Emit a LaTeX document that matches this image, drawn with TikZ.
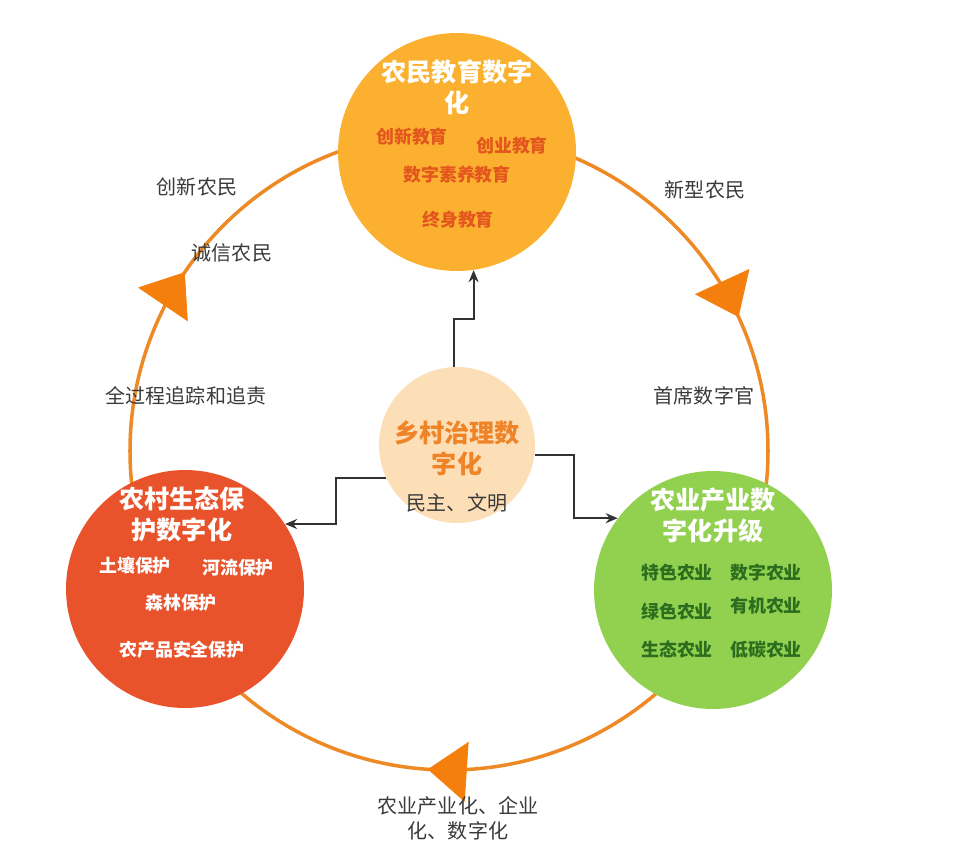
\documentclass[tikz,border=0pt]{standalone}
\usepackage{fontspec}
\setmainfont{Noto Sans CJK SC}
\usepackage{tikz}
\usetikzlibrary{arrows.meta, positioning, decorations.markings}
\definecolor{EduOrange}{HTML}{FBB12F}
\definecolor{EcoRed}{HTML}{E8532C}
\definecolor{AgriGreen}{HTML}{92D050}
\definecolor{GovPeach}{HTML}{FDDFB7}
\definecolor{RingOrange}{HTML}{EE8A26}
\definecolor{TipOrange}{HTML}{F57F0C}
\definecolor{ItemRed}{HTML}{E3561E}
\definecolor{ItemGreen}{HTML}{2C6E1E}
\definecolor{GovText}{HTML}{EE8427}
\definecolor{NoteGray}{HTML}{3A3A3A}
\definecolor{LinkGray}{HTML}{303234}

\begin{document}
\begin{tikzpicture}[
        x=0.02cm, y=-0.02cm,
        every node/.style={align=center, inner sep=0pt},
        bubble/.style={circle, minimum size=4.76cm},
        title/.style={text=white, font=\fontsize{14.3}{17.6}\selectfont\bfseries},
        item/.style={font=\fontsize{10.2}{12}\selectfont\bfseries},
        note/.style={text=NoteGray, font=\fontsize{11.4}{14.2}\selectfont},
        link/.style={LinkGray, line width=1.1pt, -{Stealth[length=2.4mm, width=2mm]}},
        tip/.style={TipOrange, line width=0.4pt},
        ring/.style={RingOrange, line width=2pt, postaction={decorate},
            decoration={markings,
                mark=at position 0.2606 with {\arrow[tip]{Triangle[length=7.8mm, width=12mm]}},
                mark=at position 0.5947 with {\arrow[tip]{Triangle[length=7.8mm, width=12mm]}},
                mark=at position 0.9310 with {\arrow[tip]{Triangle[length=7.8mm, width=12mm]}}}}
    ]
        \useasboundingbox (0,0) rectangle (965,852);

        % outer cycle
        \coordinate (hub) at (449,451);
        \draw[ring] (hub) circle[radius=319];

        \node[bubble, fill=EduOrange] (edu) at (457,152) {};
        \node[bubble, fill=EcoRed] (eco) at (185,589) {};
        \node[bubble, fill=AgriGreen] (agri) at (713,590) {};
        \node[bubble, fill=GovPeach, minimum size=3.12cm] (gov) at (457,445) {};

        \node[title] (eduTitle) at (457,87) {农民教育数字\\化};
        \node[item, text=ItemRed] (eduA) at (412,137) {创新教育};
        \node[item, text=ItemRed] (eduB) at (512,146) {创业教育};
        \node[item, text=ItemRed] (eduC) at (457,175) {数字素养教育};
        \node[item, text=ItemRed] (eduD) at (458,220) {终身教育};

        \node[title] (ecoTitle) at (182,514) {农村生态保\\护数字化};
        \node[item, text=white] (ecoA) at (135,566) {土壤保护};
        \node[item, text=white] (ecoB) at (238,568) {河流保护};
        \node[item, text=white] (ecoC) at (181,603) {森林保护};
        \node[item, text=white] (ecoD) at (182,650) {农产品安全保护};

        \node[title] (agriTitle) at (713,515) {农业产业数\\字化升级};
        \node[item, text=ItemGreen] (agriA) at (677,573) {特色农业};
        \node[item, text=ItemGreen] (agriB) at (766,573) {数字农业};
        \node[item, text=ItemGreen] (agriC) at (677,612) {绿色农业};
        \node[item, text=ItemGreen] (agriD) at (766,606) {有机农业};
        \node[item, text=ItemGreen] (agriE) at (677,650) {生态农业};
        \node[item, text=ItemGreen] (agriF) at (766,650) {低碳农业};

        \node[title, text=GovText] (govTitle) at (457,448) {乡村治理数\\字化};
        \node[note] (govNote) at (457,503) {民主、文明};

        % labels along the cycle
        \node[note] (lblA) at (197,187) {创新农民};
        \node[note] (lblB) at (232,253) {诚信农民};
        \node[note] (lblC) at (186,396) {全过程追踪和追责};
        \node[note] (lblD) at (705,190) {新型农民};
        \node[note] (lblE) at (704,396) {首席数字官};
        \node[note] (lblF) at (458,818) {农业产业化、企业\\化、数字化};

        \draw[link] (gov.92) -- ++(0,-48) -| (edu.-82);
        \draw[link] (gov.-7) -- ++(39,0) |- (agri.143);
        \draw[link] (gov.205) -- ++(-50,0) |- (eco.33);
    \end{tikzpicture}
\end{document}
